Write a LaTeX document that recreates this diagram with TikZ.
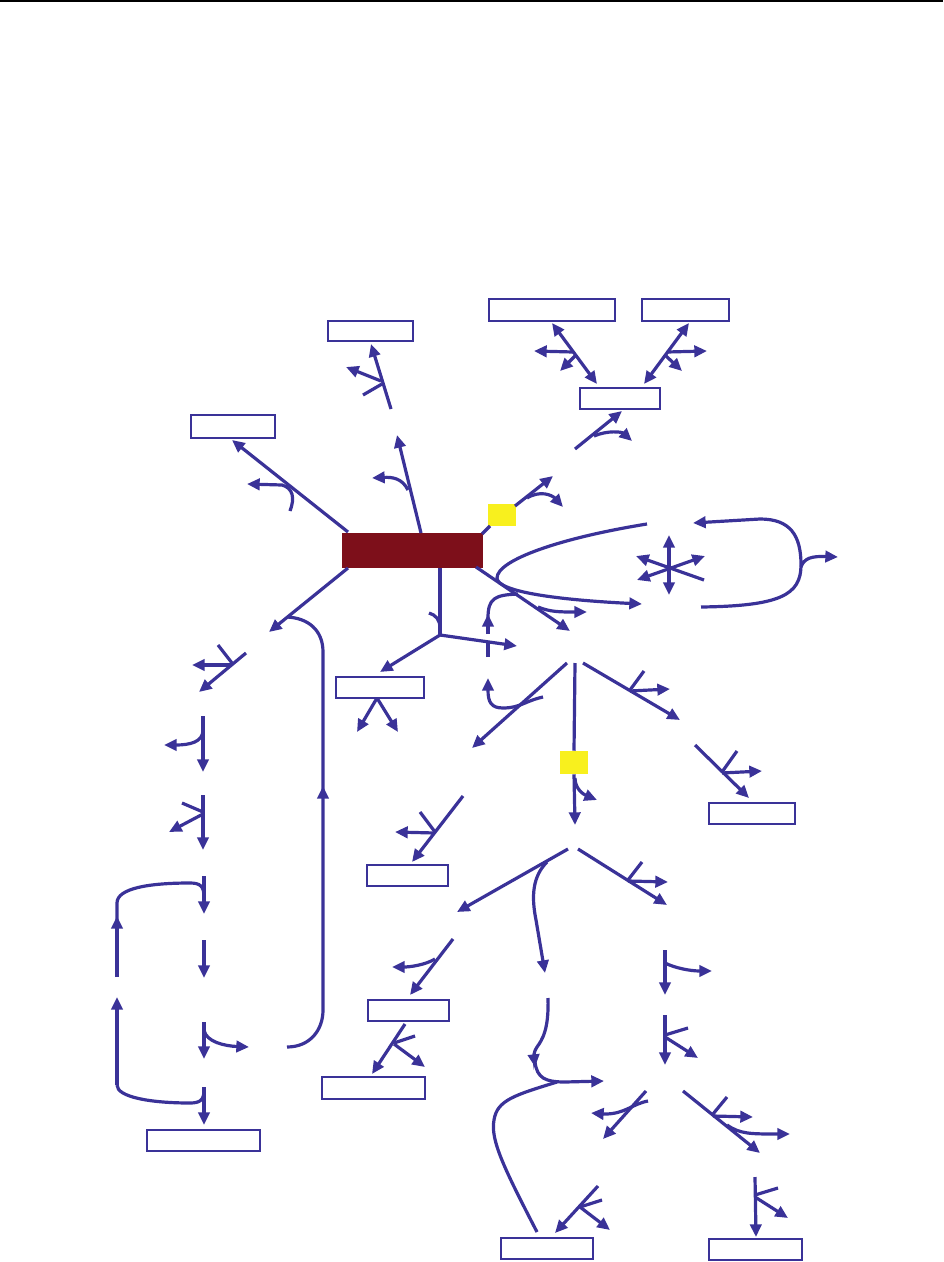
\documentclass[tikz,border=0pt]{standalone}
\usepackage{xcolor}
\definecolor{pathblue}{RGB}{58,50,152}
\definecolor{hubred}{RGB}{125,15,26}
\definecolor{marky}{RGB}{248,240,30}
\usetikzlibrary{arrows.meta,fit}

\begin{document}
\begin{tikzpicture}[x=0.75pt,y=-0.75pt]

    \tikzset{
      rx/.style={draw=pathblue,line width=2.4pt},
      fw/.style={rx,-{Triangle[length=9.5pt,width=8.5pt]}},
      bw/.style={rx,{Triangle[length=9.5pt,width=8.5pt]}-{Triangle[length=9.5pt,width=8.5pt]}},
      slot/.style={draw=pathblue,line width=1.9pt,inner sep=0pt},
      hub/.style={fill=hubred,inner sep=0pt},
      marker/.style={fill=marky,inner sep=0pt},
    }
    \useasboundingbox (0,0) rectangle (943,1262);
    \draw[black,line width=1.5pt] (0,1) -- (943,1);

	% boxes
	\node[hub,fit={(342,533) (483,568)}] (hb) {};
	\node[marker,fit={(488,504) (516,526)}] (y1) {};
	\node[marker,fit={(560,751) (588,774)}] (y2) {};
	\node[slot,fit={(328,321) (413,341)}] (n1) {};
	\node[slot,fit={(489,299) (615,321)}] (n2) {};
	\node[slot,fit={(642,299) (729,321)}] (n3) {};
	\node[slot,fit={(580,388) (660,409)}] (n4) {};
	\node[slot,fit={(191,415) (275,438)}] (n5) {};
	\node[slot,fit={(336,677) (424,698)}] (n6) {};
	\node[slot,fit={(709,803) (795,824)}] (n7) {};
	\node[slot,fit={(367,865) (448,886)}] (n8) {};
	\node[slot,fit={(368,1000) (449,1021)}] (n9) {};
	\node[slot,fit={(322,1077) (425,1099)}] (n10) {};
	\node[slot,fit={(147,1130) (260,1151)}] (n11) {};
	\node[slot,fit={(501,1238) (593,1259)}] (n12) {};
	\node[slot,fit={(709,1239) (802,1260)}] (n13) {};

	% top part
	\draw[fw] (391,409) -- (371,344);
	\draw[rx] (363,395) -- (382,384);
	\draw[fw] (381,381) -- (346,367);
	\draw[fw] (421,533) -- (397,435);
	\draw[fw] (408,490) .. controls (402,478) and (392,477) .. (372,478);
	\draw[fw] (348,532) -- (232,440);
	\draw[fw] (290,511) .. controls (295,498) and (293,488) .. (282,485) -- (247,484);
	\draw[rx] (482,534) -- (490,526);
	\draw[fw] (515,506) -- (553,476);
	\draw[fw] (527,498) .. controls (540,490) and (552,495) .. (563,507);
	\draw[fw] (575,449) -- (622,411);
	\draw[fw] (594,436) .. controls (608,430) and (622,432) .. (632,441);
	\draw[bw] (552,323) -- (597,384);
	\draw[fw] (573,352) -- (534,351);
	\draw[fw] (575,356) -- (560,371);
	\draw[bw] (689,323) -- (644,384);
	\draw[fw] (667,352) -- (707,351);
	\draw[fw] (666,356) -- (682,371);

	% cycle on the right
	\draw[fw] (647,524) .. controls (560,538) and (497,560) .. (497,578) .. controls (497,592) and (560,600) .. (642,604);
	\draw[fw] (476,567) -- (570,631);
	\draw[fw] (538,607) .. controls (550,612) and (560,612) .. (587,612);
	\draw[rx] (488,657) -- (488,643);
	\draw[fw] (488,634) -- (488,614);
	\draw[rx] (488,618) .. controls (488,598) and (495,595) .. (518,594);
	\draw[fw] (543,697) .. controls (525,701) and (520,708) .. (503,708) .. controls (491,708) and (488,702) .. (488,678);
	\draw[bw] (669,535) -- (669,595);
	\draw[fw] (704,580) -- (636,556);
	\draw[bw] (637,580) -- (705,556);
	\draw[fw] (701,607) .. controls (780,606) and (801,595) .. (801,565) .. controls (801,535) and (790,519) .. (760,519) -- (693,523);
	\draw[fw] (801,567) .. controls (804,558) and (812,556) .. (838,557);

	% middle
	\draw[rx] (440,568) -- (440,635);
	\draw[rx] (429,613) .. controls (436,615) and (440,620) .. (440,628);
	\draw[fw] (440,635) -- (517,646);
	\draw[fw] (440,635) -- (380,672);
	\draw[fw] (377,698) -- (357,732);
	\draw[fw] (377,698) -- (398,732);
	\draw[fw] (567,663) -- (472,748);
	\draw[rx] (575,663) -- (y2.north);
	\draw[fw] (y2.south) -- (575,825);
	\draw[fw] (575,778) .. controls (575,790) and (585,795) .. (597,800);
	\draw[fw] (583,663) -- (680,720);
	\draw[rx] (644,671) -- (630,690);
	\draw[fw] (630,691) -- (670,689);
	\draw[fw] (695,745) -- (749,798);
	\draw[rx] (737,751) -- (722,772);
	\draw[fw] (722,773) -- (762,771);
	\draw[fw] (463,796) -- (412,862);
	\draw[rx] (420,812) -- (435,832);
	\draw[fw] (435,833) -- (395,832);

	% lower middle
	\draw[fw] (568,849) -- (457,912);
	\draw[fw] (547,862) .. controls (533,876) and (531,895) .. (536,920) -- (545,973);
	\draw[fw] (578,849) -- (667,905);
	\draw[rx] (642,862) -- (628,880);
	\draw[fw] (628,881) -- (668,882);
	\draw[fw] (453,939) -- (410,995);
	\draw[fw] (435,959) .. controls (425,965) and (410,967) .. (392,967);
	\draw[fw] (405,1024) -- (372,1074);
	\draw[rx] (415,1036) -- (394,1043);
	\draw[fw] (394,1044) -- (425,1067);
	\draw[fw] (548,998) .. controls (549,1030) and (542,1040) .. (537,1047) .. controls (533,1053) and (534,1058) .. (535,1067);
	\draw[fw] (535,1062) .. controls (537,1078) and (545,1082) .. (565,1082) -- (604,1081);
	\draw[rx] (537,1232) .. controls (505,1170) and (490,1140) .. (494,1120) .. controls (497,1100) and (515,1095) .. (557,1082);
	\draw[fw] (598,1186) -- (555,1233);
	\draw[rx] (602,1200) -- (580,1207);
	\draw[fw] (580,1207) -- (610,1230);

	% lower right
	\draw[fw] (665,950) -- (665,995);
	\draw[fw] (665,963) .. controls (675,968) and (690,971) .. (712,971);
	\draw[fw] (665,1015) -- (665,1065);
	\draw[rx] (688,1028) -- (665,1035);
	\draw[fw] (665,1037) -- (698,1058);
	\draw[fw] (646,1091) -- (603,1139);
	\draw[fw] (648,1101) .. controls (632,1104) and (625,1114) .. (605,1114) -- (591,1113);
	\draw[fw] (683,1091) -- (760,1153);
	\draw[rx] (727,1097) -- (713,1114);
	\draw[fw] (713,1116) -- (753,1117);
	\draw[fw] (727,1125) .. controls (740,1134) and (750,1134) .. (790,1134);
	\draw[fw] (755,1177) -- (756,1237);
	\draw[rx] (778,1188) -- (755,1195);
	\draw[fw] (755,1197) -- (788,1218);

	% left column
	\draw[fw] (348,568) -- (269,632);
	\draw[fw] (287,1047) .. controls (310,1047) and (323,1030) .. (323,1010) -- (323,786);
	\draw[rx] (323,792) -- (323,652) .. controls (323,630) and (308,618) .. (287,617);
	\draw[fw] (246,653) -- (199,692);
	\draw[rx] (218,645) -- (232,663);
	\draw[fw] (232,665) -- (192,665);
	\draw[fw] (203,716) -- (203,772);
	\draw[fw] (203,730) .. controls (203,742) and (190,745) .. (164,745);
	\draw[fw] (203,795) -- (203,850);
	\draw[rx] (182,803) -- (203,812);
	\draw[fw] (203,814) -- (169,832);
	\draw[fw] (204,876) -- (204,914);
	\draw[rx] (204,897) .. controls (204,886) and (200,883) .. (190,883) .. controls (150,883) and (117,888) .. (117,903) -- (117,920);
	\draw[fw] (117,977) -- (117,916);
	\draw[fw] (204,940) -- (204,978);
	\draw[fw] (204,1022) -- (204,1059);
	\draw[fw] (204,1030) .. controls (206,1042) and (225,1046) .. (249,1047);
	\draw[rx] (204,1090) .. controls (204,1100) and (200,1103) .. (190,1103) .. controls (150,1103) and (117,1097) .. (117,1085);
	\draw[fw] (117,1085) -- (117,997);
	\draw[fw] (204,1087) -- (204,1125);

\end{tikzpicture}
\end{document}
